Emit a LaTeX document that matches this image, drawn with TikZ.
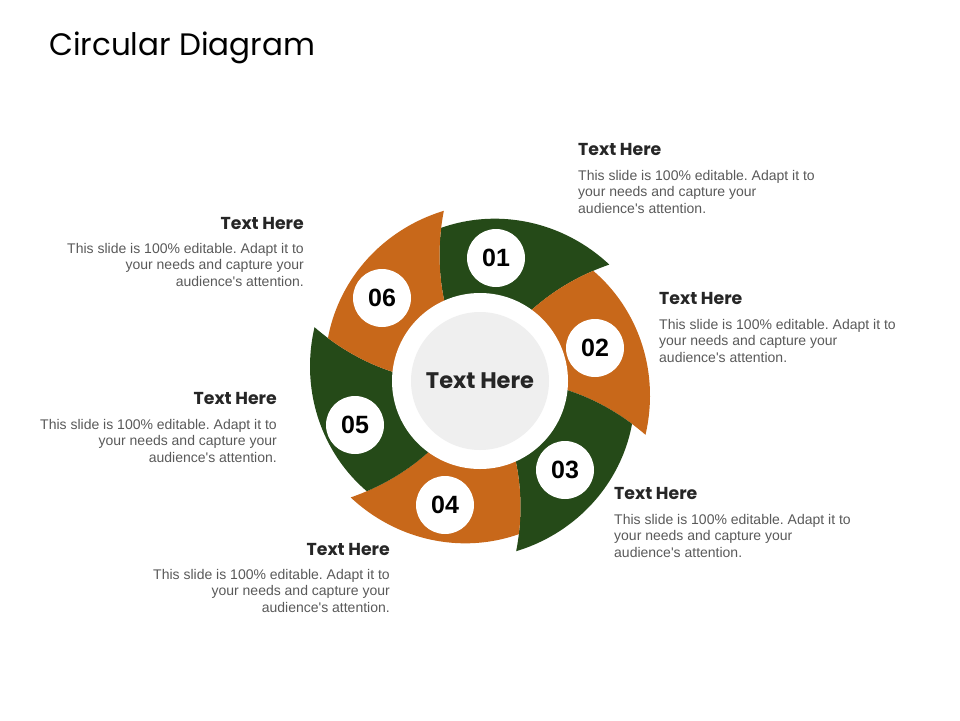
\documentclass[tikz,border=0pt]{standalone}
\usepackage{fontspec}
\setmainfont{Liberation Sans}
\newfontfamily\gothic{Poppins}
\frenchspacing
\definecolor{dgreen}{HTML}{254A18}
\definecolor{dorange}{HTML}{C8681A}
\definecolor{bodygray}{HTML}{595959}
\definecolor{headgray}{HTML}{262626}
\definecolor{centergray}{HTML}{EFEFEF}
\newcommand{\bodytext}{This slide is 100\% editable. Adapt it to\\your needs and capture your\\audience\textquotesingle s attention.}
\tikzset{
  numcircle/.style={circle,fill=white,minimum size=58pt,inner sep=0pt,font=\fontsize{25}{25}\selectfont\bfseries,text=black},
  headtext/.style={inner sep=0pt,font=\gothic\bfseries\fontsize{17.3}{17.3}\selectfont,text=headgray},
  bodyL/.style={inner sep=0pt,align=left,anchor=north west,font=\fontsize{14}{16.5}\selectfont,text=bodygray},
  bodyR/.style={inner sep=0pt,align=right,anchor=north east,font=\fontsize{14}{16.5}\selectfont,text=bodygray},
}
\begin{document}
\begin{tikzpicture}[x=1pt,y=1pt]
\useasboundingbox (0,0) rectangle (960,-720);
\node[anchor=base west,inner sep=0pt,font=\gothic\fontsize{31}{31}\selectfont,text=black] (title) at (49,-55) {Circular Diagram};
% ring segments
\begin{scope}[shift={(480,-381)}]
\foreach \k/\col in {1/dgreen,2/dorange,3/dgreen,4/dorange,5/dgreen,6/dorange}{
  \pgfmathsetmacro\ta{102-60*\k}
  \pgfmathsetmacro\tp{\ta+60}
  \pgfmathsetmacro\ts{\tp+2.23}
  \pgfmathsetmacro\tai{\ta+14.5}
  \pgfmathsetmacro\tpi{\tp+14.5}
  \fill[\col] plot[domain=\ts:\ta,samples=40] (\x:{158+16*(\ts-\x)/(\ts-\ta)})
    -- plot[domain=174:70,samples=20] ({\ta+12*(174-\x)/86}:\x)
    arc[start angle=\tai,end angle=\tpi,radius=70]
    -- plot[domain=70:158,samples=20] ({\tp+12*(174-\x)/86}:\x) -- cycle;
}
\end{scope}
\node[circle,fill=white,minimum size=176pt,inner sep=0pt] (ringhole) at (480,-381) {};
\node[circle,fill=centergray,minimum size=138pt,inner sep=0pt,font=\gothic\bfseries\fontsize{22.5}{22.5}\selectfont,text=headgray] (center) at (480,-381) {Text Here};
% number circles
\node[numcircle] (n1) at (496,-258) {01};
\node[numcircle] (n2) at (595,-348) {02};
\node[numcircle] (n3) at (565,-470) {03};
\node[numcircle] (n4) at (445,-505) {04};
\node[numcircle] (n5) at (355,-425) {05};
\node[numcircle] (n6) at (382,-298) {06};
% text blocks
\node[headtext,anchor=base west] (h1) at (578,-155) {Text Here};
\node[bodyL] (b1) at (578,-170) {\bodytext};
\node[headtext,anchor=base west] (h2) at (659,-304) {Text Here};
\node[bodyL] (b2) at (659,-319) {\bodytext};
\node[headtext,anchor=base west] (h3) at (614,-499) {Text Here};
\node[bodyL] (b3) at (614,-514) {\bodytext};
\node[headtext,anchor=base east] (h4) at (390,-555) {Text Here};
\node[bodyR] (b4) at (390,-569) {\bodytext};
\node[headtext,anchor=base east] (h5) at (277,-404) {Text Here};
\node[bodyR] (b5) at (277,-419) {\bodytext};
\node[headtext,anchor=base east] (h6) at (304,-229) {Text Here};
\node[bodyR] (b6) at (304,-243) {\bodytext};
\end{tikzpicture}
\end{document}
